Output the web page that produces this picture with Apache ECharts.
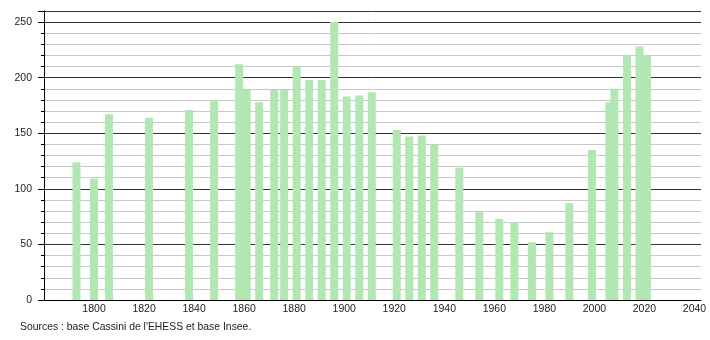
<!DOCTYPE html>
<html><head><meta charset="utf-8">
<script src="https://cdn.jsdelivr.net/npm/echarts@6/dist/echarts.min.js"></script>
<style>html,body{margin:0;padding:0;background:#fff}#c{width:710px;height:340px}</style>
</head><body><div id="c"></div>
<script>
const years = [1793,1800,1806,1822,1838,1848,1858,1861,1866,1872,1876,1881,1886,1891,1896,1901,1906,1911,1921,1926,1931,1936,1946,1954,1962,1968,1975,1982,1990,1999,2006,2008,2013,2018,2021];
const population = [124,109,167,164,171,180,212,189,178,189,189,210,198,198,250,183,184,187,153,147,148,140,119,79,73,70,52,61,87,135,178,190,220,228,220];
const xTicks = [1800,1820,1840,1860,1880,1900,1920,1940,1960,1980,2000,2020,2040];
const yTicks = [0,50,100,150,200,250];
const sourceText = "Sources : base Cassini de l'EHESS et base Insee.";

const chart = echarts.init(document.getElementById('c'), null, {renderer:'canvas'});
const font = 'Liberation Sans, Arial, sans-serif';
chart.setOption({
  animation:false,
  grid:{left:44,right:9,top:11,bottom:40},
  xAxis:{type:'value',min:1780,max:2042.6,interval:20,
    axisLine:{lineStyle:{color:'#000',width:1}},axisTick:{show:false},splitLine:{show:false},
    axisLabel:{margin:4,color:'#222',fontSize:10.5,fontFamily:font,showMinLabel:false,
      formatter:v=>xTicks.includes(v)?String(v):''}},
  yAxis:[{type:'value',min:0,max:260,interval:10,
    axisLine:{show:true,lineStyle:{color:'#000'}},
    axisTick:{show:true,length:3,lineStyle:{color:'#000'}},
    splitLine:{show:true,lineStyle:{color:'#c8c8c8',width:1}},
    axisLabel:{show:false}},
   {type:'value',min:0,max:260,interval:50,position:'left',offset:0,
    axisLine:{show:true,lineStyle:{color:'#000'}},
    axisTick:{show:true,length:6,lineStyle:{color:'#000'}},
    splitLine:{show:true,lineStyle:{color:'#333',width:1}},
    axisLabel:{margin:12,color:'#222',fontSize:10.5,fontFamily:font,
      formatter:v=>yTicks.includes(v)?String(v):''}}],
  series:[{type:'bar',yAxisIndex:0,barWidth:8,barGap:'-100%',
    itemStyle:{color:'#b2e6b2'},
    data:years.map((y,i)=>[y,population[i]])}],
  graphic:[{type:'text',left:20,top:322,style:{text:sourceText,fill:'#222',font:'10.4px '+font}}]
});
</script></body></html>
